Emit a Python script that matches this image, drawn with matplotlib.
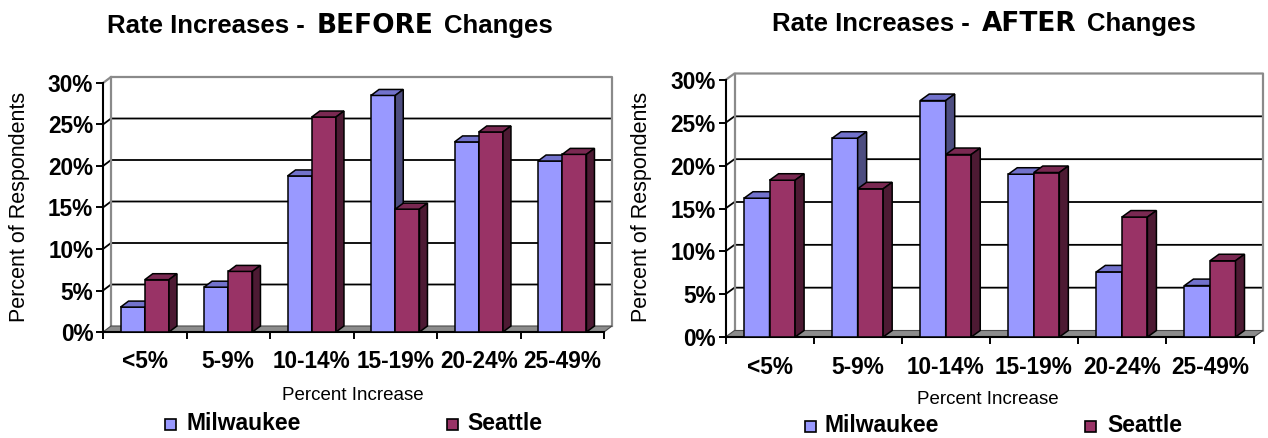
import matplotlib
matplotlib.use("Agg")
import matplotlib.pyplot as plt
from matplotlib.patches import Polygon, Rectangle

# ---- data -----------------------------------------------------------------
categories = ["<5%", "5-9%", "10-14%", "15-19%", "20-24%", "25-49%"]
series_names = ["Milwaukee", "Seattle"]
before_milwaukee = [3.0, 5.4, 18.8, 28.5, 22.9, 20.6]
before_seattle = [6.3, 7.3, 25.9, 14.8, 24.1, 21.4]
after_milwaukee = [16.2, 23.2, 27.6, 19.0, 7.6, 6.0]
after_seattle = [18.3, 17.3, 21.3, 19.2, 14.0, 8.9]
y_ticks = [0, 5, 10, 15, 20, 25, 30]
title_words = ["BEFORE", "AFTER"]

# ---- style ----------------------------------------------------------------
W, H = 1268, 438
FONT = "Liberation Sans"
FACES = {
    "Milwaukee": ("#9999FF", "#7272CC", "#4D4D80"),  # front, top, side
    "Seattle": ("#993366", "#7A2952", "#4D1A33"),
}
BAR_W = 0.29
EDGE_LW = 1.1
TICK_FS = 16.3

fig = plt.figure(figsize=(W / 100, H / 100), dpi=100)
fig.patch.set_facecolor("white")


def fx(px):
    return px / W


def fy(py):
    return 1 - py / H


def draw_panel(rect, mil, sea, dx_px, dy_px, tick_pad):
    left, top0, right, top30 = rect
    ax = fig.add_axes([fx(left), fy(top0), (right - left) / W, (top0 - top30) / H])
    n = len(categories)
    ax.set_xlim(0, n)
    ax.set_ylim(0, 30)
    ax.set_facecolor("none")
    ddx = dx_px * n / (right - left)
    ddy = dy_px * 30 / (top0 - top30)

    # back wall and side wall outline
    ax.add_patch(Rectangle((ddx, ddy), n, 30, facecolor="white", edgecolor="none",
                           zorder=0.5, clip_on=False))
    for v in y_ticks[1:-1]:
        ax.plot([0, ddx, n + ddx], [v, v + ddy, v + ddy], color="black", lw=1.3,
                zorder=1, clip_on=False, solid_capstyle="butt")
    gray = "#8A8A8A"
    ax.plot([0, ddx, n + ddx, n + ddx], [30, 30 + ddy, 30 + ddy, ddy], color=gray,
            lw=1.6, zorder=1, clip_on=False)
    ax.plot([ddx, ddx], [ddy, 30 + ddy], color=gray, lw=1.6, zorder=1, clip_on=False)

    # floor
    ax.add_patch(Polygon([(0, 0), (n, 0), (n + ddx, ddy), (ddx, ddy)], closed=True,
                         facecolor="#8C8C8C", edgecolor="#4A4A4A", lw=0.8,
                         zorder=1.5, clip_on=False))

    # bars with depth faces
    for k, (name, vals) in enumerate(zip(series_names, (mil, sea))):
        front, topc, side = FACES[name]
        xs = [i + 0.5 - BAR_W + k * BAR_W for i in range(n)]
        z = 3 + k
        ax.bar(xs, vals, width=BAR_W, align="edge", color=front, edgecolor="black",
               lw=EDGE_LW, zorder=z, clip_on=False)
        for x, v in zip(xs, vals):
            ax.add_patch(Polygon([(x, v), (x + BAR_W, v), (x + BAR_W + ddx, v + ddy),
                                  (x + ddx, v + ddy)], closed=True, facecolor=topc,
                                 edgecolor="black", lw=EDGE_LW, zorder=z, clip_on=False))
            ax.add_patch(Polygon([(x + BAR_W, 0), (x + BAR_W + ddx, ddy),
                                  (x + BAR_W + ddx, v + ddy), (x + BAR_W, v)],
                                 closed=True, facecolor=side, edgecolor="black",
                                 lw=EDGE_LW, zorder=z, clip_on=False))

    # axes
    for s in ("top", "right"):
        ax.spines[s].set_visible(False)
    for s in ("left", "bottom"):
        ax.spines[s].set_color("black")
        ax.spines[s].set_linewidth(1.5)
        ax.spines[s].set_zorder(2)
    ax.set_yticks(y_ticks)
    ax.set_yticklabels([f"{t}%" for t in y_ticks], fontfamily=FONT,
                       fontweight="bold", fontsize=TICK_FS)
    ax.tick_params(axis="y", direction="out", length=5, width=1.4, pad=2)
    ax.set_xticks(range(n + 1))
    ax.set_xticklabels([""] * (n + 1))
    ax.set_xticks([i + 0.5 for i in range(n)], minor=True)
    ax.set_xticklabels(categories, minor=True, fontfamily=FONT,
                       fontweight="bold", fontsize=TICK_FS)
    ax.tick_params(axis="x", which="major", direction="out", length=5, width=1.4)
    ax.tick_params(axis="x", which="minor", length=0, pad=tick_pad)
    return ax


def rich_title(cx, baseline, word):
    renderer = fig.canvas.get_renderer()
    parts = [
        ("Rate Increases -", dict(fontfamily=FONT, fontweight="bold", fontsize=18.5), 12),
        (word, dict(fontfamily="DejaVu Sans", fontweight="heavy", fontsize=19), 10),
        ("Changes", dict(fontfamily=FONT, fontweight="bold", fontsize=18.5), 0),
    ]
    texts, widths, gaps = [], [], []
    for s, kw, gap in parts:
        t = fig.text(0, fy(baseline), s, ha="left", va="baseline", **kw)
        texts.append(t)
        widths.append(t.get_window_extent(renderer).width)
        gaps.append(gap)
    total = sum(widths) + sum(gaps)
    x = cx - total / 2
    for t, w, g in zip(texts, widths, gaps):
        t.set_x(fx(x))
        x += w + g


def legend(items):
    for name, sq_x, txt_x, cy in items:
        front = FACES[name][0]
        fig.add_artist(Rectangle((fx(sq_x), fy(cy + 6)), 11 / W, 11 / H,
                                 transform=fig.transFigure, facecolor=front,
                                 edgecolor="black", lw=1.2))
        fig.text(fx(txt_x), fy(cy), name, ha="left", va="center",
                 fontfamily=FONT, fontweight="bold", fontsize=16.5)


# left panel
draw_panel((103, 332, 604, 83), before_milwaukee, before_seattle, 8, 6, 13)
rich_title(330, 33, title_words[0])
fig.text(fx(20), fy(207), "Percent of Respondents", rotation=90, ha="center",
         va="center", fontfamily=FONT, fontsize=15.5)
fig.text(fx(353), fy(395), "Percent Increase", ha="center", va="center",
         fontfamily=FONT, fontsize=13.5)
legend([("Milwaukee", 165, 186, 424), ("Seattle", 447, 467, 424)])

# right panel
draw_panel((725.5, 337, 1254, 80), after_milwaukee, after_seattle, 9, 6.5, 14)
rich_title(984, 31, title_words[1])
fig.text(fx(642), fy(207), "Percent of Respondents", rotation=90, ha="center",
         va="center", fontfamily=FONT, fontsize=15.5)
fig.text(fx(988), fy(400), "Percent Increase", ha="center", va="center",
         fontfamily=FONT, fontsize=13.5)
legend([("Milwaukee", 805, 825, 426), ("Seattle", 1085, 1107, 426)])

fig.savefig("out.png", dpi=100, facecolor="white")
